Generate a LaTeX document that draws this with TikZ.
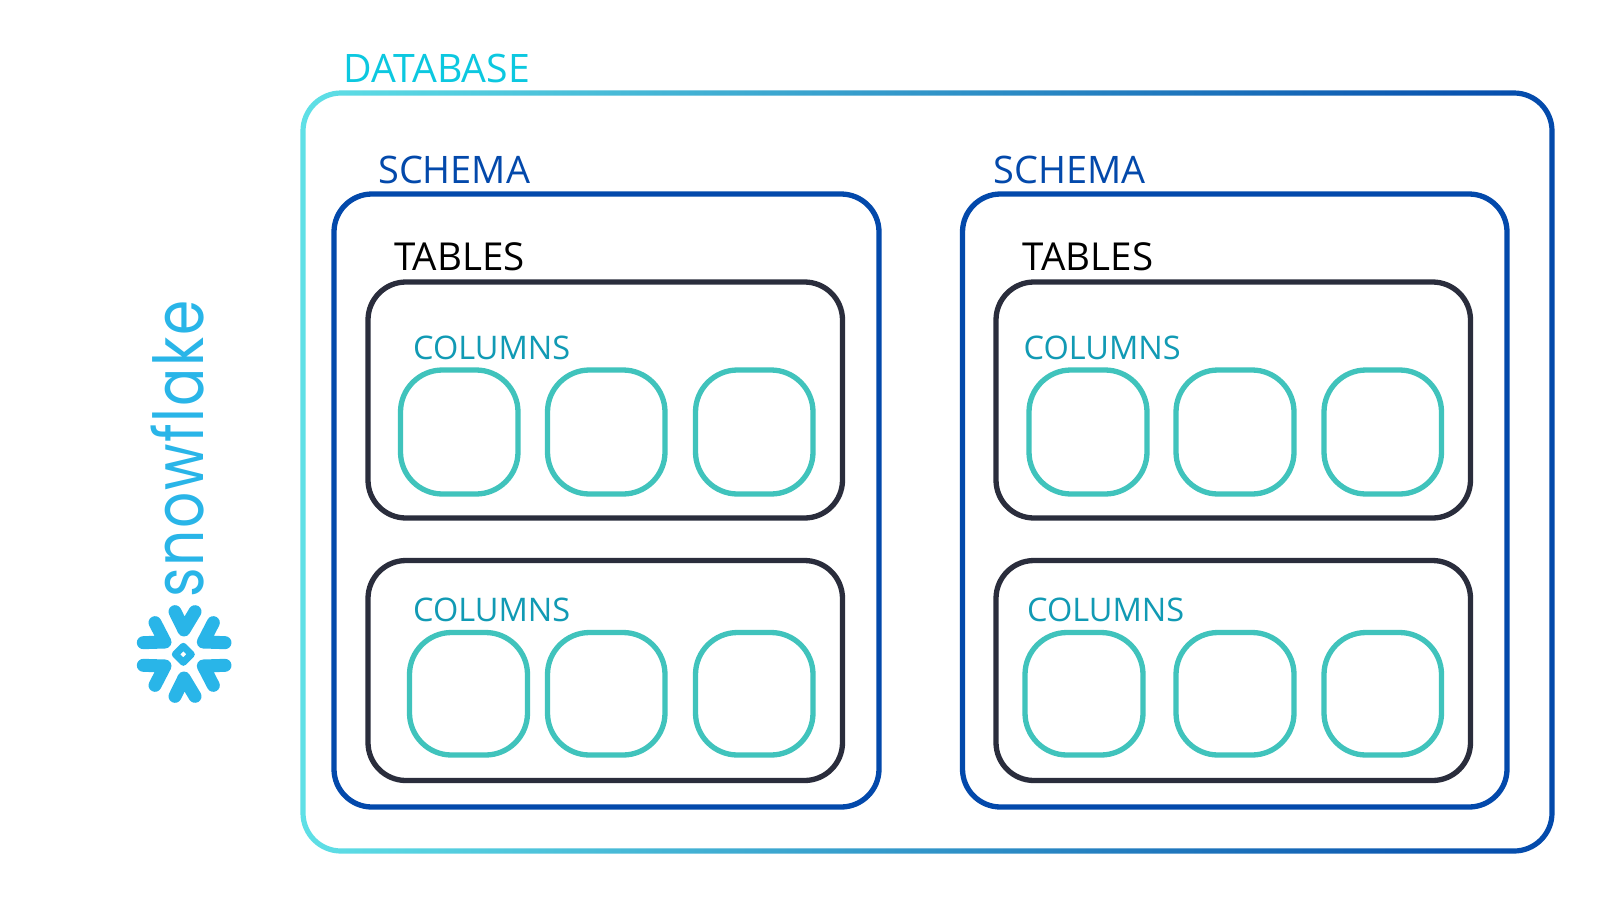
\documentclass[tikz,border=0pt]{standalone}
\usepackage{fontspec}
\usepackage{graphicx}
\setmainfont{Open Sans}
\newfontfamily\logofont[Ligatures=CommonOff,LetterSpace=3]{Poppins}
\definecolor{dbL}{HTML}{5FE0E6}
\definecolor{dbR}{HTML}{0349AB}
\definecolor{dbT}{HTML}{0CC8E0}
\definecolor{schemaC}{HTML}{0349AB}
\definecolor{tableC}{HTML}{2A2D3C}
\definecolor{colC}{HTML}{40C3BC}
\definecolor{colT}{HTML}{119AB4}
\definecolor{logoC}{HTML}{29B5E8}
\tikzset{
  schemabox/.style={draw=schemaC,line width=5.3pt,rounded corners=38pt},
  tablebox/.style={draw=tableC,line width=5.3pt,rounded corners=38pt},
  colbox/.style={draw=colC,line width=5.3pt,rounded corners=42pt},
  lbl/.style={anchor=base west,inner sep=0pt},
  dblbl/.style={lbl,text=dbT,font=\fontsize{39.2}{39.2}\selectfont},
  schemalbl/.style={lbl,text=schemaC,font=\fontsize{37.9}{37.9}\selectfont},
  tablelbl/.style={lbl,text=black,font=\fontsize{38.5}{38.5}\selectfont},
  collbl/.style={lbl,text=colT,font=\fontsize{32.5}{32.5}\selectfont},
  chev/.style={draw=logoC,line width=13pt,line cap=round,line join=round}
}
\begin{document}
\begin{tikzpicture}[x=1pt,y=-1pt]
\useasboundingbox (0,0) rectangle (1600,900);
\fill[white] (0,0) rectangle (1600,900);
% database ring with gradient stroke
\path[even odd rule,left color=dbL,right color=dbR,shading angle=90]
  [rounded corners=40.6pt] (300.4,90.4) rectangle (1554.6,853.6)
  [rounded corners=35.4pt] (305.6,95.6) rectangle (1549.4,848.4);
\node[dblbl] (dbl) at (343.5,82) {DATABASE};
% schemas
\draw[schemabox] (334,194) rectangle (879,807);
\draw[schemabox] (962.5,194) rectangle (1507,807);
\node[schemalbl] (s1) at (378,183) {SCHEMA};
\node[schemalbl] (s2) at (993.5,183) {SCHEMA};
% tables
\draw[tablebox] (368,282) rectangle (842.5,518);
\draw[tablebox] (368,560.5) rectangle (842.5,780.5);
\draw[tablebox] (996,282) rectangle (1470.5,518);
\draw[tablebox] (996,560.5) rectangle (1470.5,780.5);
\node[tablelbl] (t1) at (394,270) {TABLES};
\node[tablelbl] (t2) at (1022.5,270) {TABLES};
\node[collbl] (c1) at (413,359) {COLUMNS};
\node[collbl] (c2) at (413,621) {COLUMNS};
\node[collbl] (c3) at (1023.5,359) {COLUMNS};
\node[collbl] (c4) at (1027,621) {COLUMNS};
% column boxes
\foreach \a/\b in {400.5/518,547.5/665,695.5/813,1029/1147,1176/1294,1324/1441.5}
  \draw[colbox] (\a,370) rectangle (\b,494);
\foreach \a/\b in {409.5/527.5,547.5/665,695.5/813,1025/1143,1176/1294,1324/1441.5}
  \draw[colbox] (\a,632.5) rectangle (\b,755);
% logo
\node[anchor=base west,inner sep=0pt,rotate=90,text=logoC,font=\logofont\fontsize{74}{74}\selectfont] (logo) at (203,598) {\scalebox{0.765}[0.93]{snowflake}};
\begin{scope}[shift={(120,570)},x=0.3333pt,y=-0.3333pt]
\draw[chev] (165,125)--(192,180)--(225,125);
\draw[chev] (165,379)--(192,324)--(225,379);
\draw[chev] (105,158)--(135,216)--(70,218);
\draw[chev] (280,158)--(250,216)--(315,218);
\draw[chev] (105,346)--(135,288)--(70,286);
\draw[chev] (280,346)--(250,288)--(315,286);
\draw[logoC,line width=7pt,line join=round] (190,229)--(214,253)--(190,277)--(166,253)--cycle;
\end{scope}
\end{tikzpicture}
\end{document}
